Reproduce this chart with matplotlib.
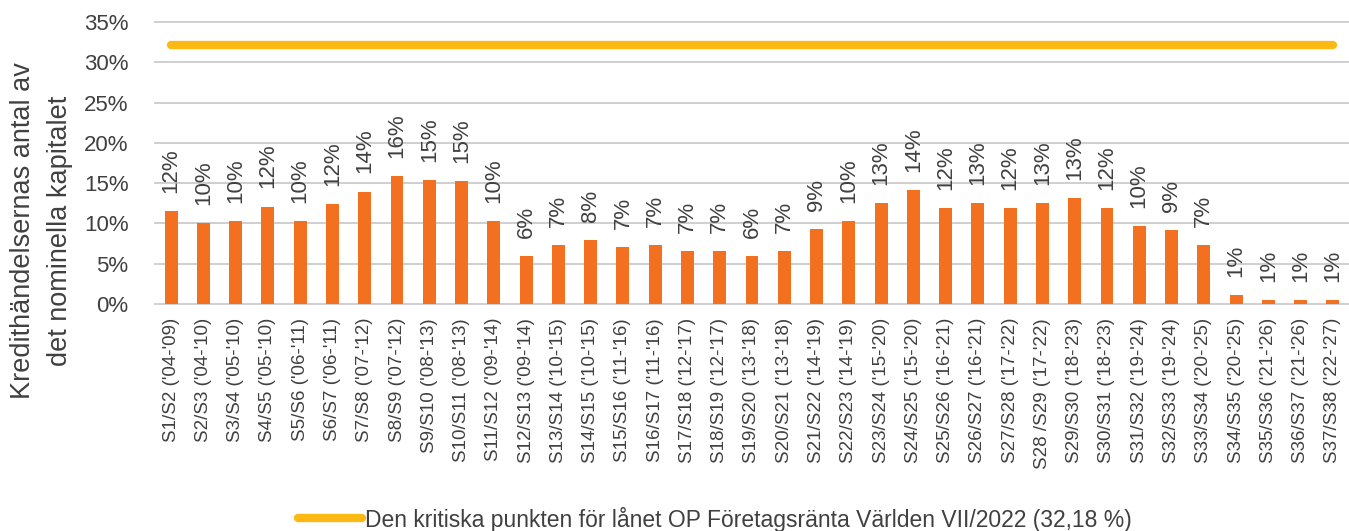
import numpy as np
import matplotlib
matplotlib.use("Agg")
import matplotlib.pyplot as plt

categories = [
    "S1/S2 ('04-'09)", "S2/S3 ('04-'10)", "S3/S4 ('05-'10)", "S4/S5 ('05-'10)",
    "S5/S6 ('06-'11)", "S6/S7 ('06-'11)", "S7/S8 ('07-'12)", "S8/S9 ('07-'12)",
    "S9/S10 ('08-'13)", "S10/S11 ('08-'13)", "S11/S12 ('09-'14)", "S12/S13 ('09-'14)",
    "S13/S14 ('10-'15)", "S14/S15 ('10-'15)", "S15/S16 ('11-'16)", "S16/S17 ('11-'16)",
    "S17/S18 ('12-'17)", "S18/S19 ('12-'17)", "S19/S20 ('13-'18)", "S20/S21 ('13-'18)",
    "S21/S22 ('14-'19)", "S22/S23 ('14-'19)", "S23/S24 ('15-'20)", "S24/S25 ('15-'20)",
    "S25/S26 ('16-'21)", "S26/S27 ('16-'21)", "S27/S28 ('17-'22)", "S28 /S29 ('17-'22)",
    "S29/S30 ('18-'23)", "S30/S31 ('18-'23)", "S31/S32 ('19-'24)", "S32/S33 ('19-'24)",
    "S33/S34 ('20-'25)", "S34/S35 ('20-'25)", "S35/S36 ('21-'26)", "S36/S37 ('21-'26)",
    "S37/S38 ('22-'27)",
]

# credit event share (fraction of nominal capital)
values = [
    0.1155, 0.100, 0.1035, 0.121, 0.1035, 0.124, 0.1396, 0.159, 0.1537,
    0.153, 0.1035, 0.060, 0.0727, 0.0793, 0.071, 0.0727, 0.066, 0.066,
    0.060, 0.066, 0.0933, 0.1024, 0.1252, 0.142, 0.1194, 0.1252, 0.1194,
    0.1252, 0.131, 0.1194, 0.0962, 0.0913, 0.0735, 0.0107, 0.0053, 0.0053,
    0.0053,
]

value_labels = [
    "12%", "10%", "10%", "12%", "10%", "12%", "14%", "16%", "15%", "15%",
    "10%", "6%", "7%", "8%", "7%", "7%", "7%", "7%", "6%", "7%", "9%",
    "10%", "13%", "14%", "12%", "13%", "12%", "13%", "13%", "12%", "10%",
    "9%", "7%", "1%", "1%", "1%", "1%",
]

critical = 0.3218
critical_label = "Den kritiska punkten för lånet OP Företagsränta Världen VII/2022 (32,18 %)"
ylabel_lines = ["Kredithändelsernas antal av", "det nominella kapitalet"]

font = ["Liberation Sans", "DejaVu Sans"]
txt = "#404040"
bar_color = "#F37021"
line_color = "#FDB913"

W, H = 1349, 531
fig = plt.figure(figsize=(W / 100, H / 100), dpi=100)
ax = fig.add_axes([155 / W, 1 - 304 / H, (W - 155) / W, (304 - 22) / H])

x = np.arange(len(categories))
ax.bar(x, values, width=0.4, color=bar_color, zorder=2)
crit_line, = ax.plot(x, [critical] * len(x), color=line_color, lw=6,
                     solid_capstyle="round", zorder=3)

for xi, v, lab in zip(x, values, value_labels):
    ax.annotate(lab, (xi, v), xytext=(0, 13), textcoords="offset points",
                rotation=90, ha="center", va="bottom", fontsize=16,
                family=font, color=txt)

ax.set_xlim(-0.5, len(categories) - 0.5)
ax.set_ylim(0, 0.35)
ticks = np.arange(0, 0.351, 0.05)
ax.set_yticks(ticks)
ax.set_yticklabels([f"{int(round(t * 100))}%" for t in ticks],
                   family=font, fontsize=16, color=txt)
ax.set_xticks(x)
ax.set_xticklabels(categories, rotation=90, family=font, fontsize=13.5, color=txt)
ax.tick_params(axis="both", length=0)
ax.tick_params(axis="y", pad=19)
ax.tick_params(axis="x", pad=10)
ax.yaxis.grid(True, color="#cbcbcb", lw=1.3, zorder=0)
for gl in ax.get_ygridlines():
    gl.set_clip_on(False)
ax.set_axisbelow(True)
for s in ax.spines.values():
    s.set_visible(False)

fig.text(23 / W, 1 - 231 / H, ylabel_lines[0], rotation=90, ha="center", va="center",
         fontsize=19.5, family=font, color=txt)
fig.text(60 / W, 1 - 231 / H, ylabel_lines[1], rotation=90, ha="center", va="center",
         fontsize=19.5, family=font, color=txt)

fig.legend([crit_line], [critical_label], loc="center",
           bbox_to_anchor=(715 / W, 1 - 519 / H), frameon=False,
           handlelength=2.8, handletextpad=0.15, borderpad=0,
           prop={"family": font, "size": 16.5}, labelcolor=txt)

fig.savefig("out.png", dpi=100)
